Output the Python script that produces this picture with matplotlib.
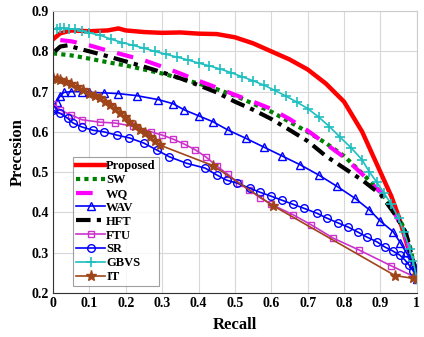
import matplotlib
matplotlib.use("Agg")
import matplotlib.pyplot as plt

plt.rcParams['font.family'] = ['Liberation Serif', 'DejaVu Serif']
plt.rcParams['font.weight'] = 'bold'

# ---- data ----
prop_r = [0, 0.02, 0.05, 0.1, 0.15, 0.18, 0.2, 0.25, 0.3, 0.35, 0.4, 0.45, 0.5, 0.55, 0.6, 0.65, 0.7, 0.75, 0.8, 0.85, 0.9, 0.93, 0.95, 0.97, 0.99, 1.0]
prop_p = [0.83, 0.845, 0.852, 0.85, 0.852, 0.857, 0.852, 0.848, 0.846, 0.847, 0.844, 0.843, 0.835, 0.82, 0.8, 0.78, 0.755, 0.72, 0.675, 0.6, 0.5, 0.44, 0.39, 0.33, 0.27, 0.24]

sw_r = [0, 0.05, 0.1, 0.15, 0.2, 0.25, 0.3, 0.35, 0.4, 0.45, 0.5, 0.55, 0.6, 0.65, 0.7, 0.75, 0.8, 0.85, 0.9, 0.93, 0.96, 0.98, 1.0]
sw_p = [0.795, 0.79, 0.782, 0.773, 0.765, 0.755, 0.745, 0.733, 0.72, 0.706, 0.69, 0.67, 0.65, 0.625, 0.6, 0.572, 0.54, 0.497, 0.45, 0.415, 0.37, 0.32, 0.24]

wq_r = [0.02, 0.05, 0.1, 0.15, 0.2, 0.25, 0.3, 0.35, 0.4, 0.45, 0.5, 0.55, 0.6, 0.65, 0.7, 0.75, 0.8, 0.85, 0.9, 0.93, 0.96, 0.98, 1.0]
wq_p = [0.828, 0.825, 0.815, 0.802, 0.79, 0.778, 0.762, 0.745, 0.727, 0.71, 0.692, 0.675, 0.657, 0.632, 0.603, 0.57, 0.537, 0.495, 0.45, 0.415, 0.36, 0.31, 0.24]

wav_r = [0, 0.01, 0.02, 0.03, 0.05, 0.08, 0.1, 0.14, 0.18, 0.23, 0.29, 0.33, 0.36, 0.4, 0.44, 0.48, 0.53, 0.58, 0.63, 0.68, 0.73, 0.78, 0.83, 0.87, 0.9, 0.935, 0.955, 0.97, 0.99, 1.0]
wav_p = [0.66, 0.675, 0.69, 0.698, 0.70, 0.70, 0.698, 0.697, 0.695, 0.69, 0.68, 0.67, 0.655, 0.64, 0.625, 0.605, 0.584, 0.562, 0.54, 0.518, 0.493, 0.465, 0.435, 0.406, 0.378, 0.352, 0.324, 0.302, 0.274, 0.235]

hft_r = [0.005, 0.02, 0.04, 0.07, 0.1, 0.15, 0.2, 0.25, 0.3, 0.35, 0.4, 0.45, 0.5, 0.55, 0.6, 0.65, 0.7, 0.75, 0.8, 0.85, 0.9, 0.94, 0.97, 1.0]
hft_p = [0.80, 0.812, 0.815, 0.807, 0.8, 0.788, 0.775, 0.762, 0.748, 0.733, 0.716, 0.698, 0.675, 0.655, 0.632, 0.605, 0.577, 0.54, 0.51, 0.48, 0.445, 0.395, 0.35, 0.24]

ftu_r = [0, 0.02, 0.05, 0.08, 0.13, 0.17, 0.22, 0.27, 0.3, 0.33, 0.36, 0.39, 0.42, 0.45, 0.48, 0.51, 0.54, 0.57, 0.6, 0.66, 0.71, 0.77, 0.84, 0.93, 1.0]
ftu_p = [0.67, 0.654, 0.642, 0.63, 0.624, 0.622, 0.614, 0.6, 0.592, 0.582, 0.57, 0.556, 0.538, 0.515, 0.495, 0.473, 0.455, 0.436, 0.42, 0.394, 0.369, 0.336, 0.307, 0.267, 0.237]

sr_r = [0, 0.02, 0.04, 0.055, 0.08, 0.11, 0.14, 0.175, 0.21, 0.25, 0.285, 0.32, 0.367, 0.418, 0.45, 0.477, 0.505, 0.541, 0.569, 0.6, 0.63, 0.66, 0.69, 0.725, 0.752, 0.783, 0.81, 0.838, 0.862, 0.89, 0.912, 0.934, 0.953, 0.967, 0.978, 0.99, 1.0]
sr_p = [0.654, 0.646, 0.634, 0.622, 0.612, 0.604, 0.6, 0.592, 0.585, 0.572, 0.555, 0.538, 0.522, 0.51, 0.493, 0.48, 0.473, 0.46, 0.45, 0.44, 0.43, 0.42, 0.41, 0.398, 0.386, 0.374, 0.364, 0.351, 0.339, 0.327, 0.314, 0.304, 0.294, 0.282, 0.27, 0.255, 0.24]

gbvs_r = [0, 0.01, 0.02, 0.03, 0.045, 0.06, 0.08, 0.1, 0.13, 0.16, 0.19, 0.22, 0.25, 0.28, 0.31, 0.34, 0.37, 0.4, 0.43, 0.46, 0.49, 0.52, 0.55, 0.58, 0.61, 0.64, 0.67, 0.7, 0.73, 0.76, 0.79, 0.82, 0.85, 0.87, 0.89, 0.91, 0.93, 0.95, 0.965, 0.98, 0.99, 1.0]
gbvs_p = [0.855, 0.856, 0.857, 0.857, 0.856, 0.855, 0.851, 0.846, 0.84, 0.83, 0.822, 0.815, 0.808, 0.8, 0.793, 0.786, 0.779, 0.771, 0.764, 0.756, 0.747, 0.737, 0.727, 0.716, 0.703, 0.689, 0.674, 0.658, 0.637, 0.613, 0.586, 0.56, 0.53, 0.5, 0.475, 0.448, 0.42, 0.385, 0.35, 0.31, 0.28, 0.235]

it_r = [0, 0.01, 0.02, 0.035, 0.05, 0.065, 0.083, 0.1, 0.115, 0.129, 0.143, 0.157, 0.17, 0.184, 0.197, 0.21, 0.225, 0.239, 0.252, 0.266, 0.28, 0.294, 0.44, 0.604, 0.94, 0.99, 1.0]
it_p = [0.735, 0.732, 0.729, 0.724, 0.718, 0.712, 0.704, 0.695, 0.69, 0.683, 0.675, 0.667, 0.657, 0.647, 0.636, 0.624, 0.614, 0.604, 0.596, 0.587, 0.577, 0.567, 0.516, 0.417, 0.243, 0.236, 0.235]

x_ticks = [0, 0.1, 0.2, 0.3, 0.4, 0.5, 0.6, 0.7, 0.8, 0.9, 1]
x_tick_labels = ['0', '0.1', '0.2', '0.3', '0.4', '0.5', '0.6', '0.7', '0.8', '0.9', '1']
y_ticks = [0.2, 0.3, 0.4, 0.5, 0.6, 0.7, 0.8, 0.9]
y_tick_labels = ['0.2', '0.3', '0.4', '0.5', '0.6', '0.7', '0.8', '0.9']

fig = plt.figure(figsize=(4.24, 3.37), dpi=100)
ax = fig.add_axes([0.125, 0.131, 0.858, 0.836])

ax.plot(prop_r, prop_p, color='#ff0000', lw=3.2, label='Proposed')
ax.plot(sw_r, sw_p, color='#008000', lw=3.0, linestyle=(0, (1, 1)), label='SW')
ax.plot(wq_r, wq_p, color='#ff00ff', lw=3.0, linestyle=(0, (4, 3)), label='WQ')
ax.plot(wav_r, wav_p, color='#0000ff', lw=1.2, marker='^', ms=6, mfc='none', mew=1.0, label='WAV')
ax.plot(hft_r, hft_p, color='#000000', lw=3.0, linestyle=(0, (3.5, 1.5, 1, 1.5)), label='HFT')
ax.plot(ftu_r, ftu_p, color='#cc33cc', lw=1.2, marker='s', ms=4, mfc='none', mew=1.0, label='FTU')
ax.plot(sr_r, sr_p, color='#0000ff', lw=1.2, marker='o', ms=5.5, mfc='none', mew=1.0, label='SR')
ax.plot(gbvs_r, gbvs_p, color='#1fbfbf', lw=1.2, marker='+', ms=7, mew=1.2, label='GBVS')
ax.plot(it_r, it_p, color='#a0451a', lw=1.2, marker='*', ms=8, label='IT')

ax.set_xlim(0, 1)
ax.set_ylim(0.2, 0.9)
ax.set_xticks(x_ticks)
ax.set_xticklabels(x_tick_labels)
ax.set_yticks(y_ticks)
ax.set_yticklabels(y_tick_labels)
ax.tick_params(labelsize=10, length=0, pad=3)
for lab in ax.get_xticklabels() + ax.get_yticklabels():
    lab.set_fontweight('bold')
ax.grid(True, color='#d8d8d8', lw=0.8)
ax.set_axisbelow(True)
for s in ['top', 'right']:
    ax.spines[s].set_color('#cccccc')
for s in ['left', 'bottom']:
    ax.spines[s].set_color('#333333')
ax.set_xlabel('Recall', fontsize=12, fontweight='bold', labelpad=5)
ax.set_ylabel('Precesion', fontsize=12, fontweight='bold', labelpad=4)

leg = ax.legend(loc='upper left', bbox_to_anchor=(0.055, 0.482),
                prop={'weight': 'bold', 'size': 9}, frameon=True, fancybox=False,
                edgecolor='#888888', handlelength=2.3, handletextpad=0.1,
                labelspacing=0.15, borderpad=0.25, borderaxespad=0)
leg.get_frame().set_linewidth(0.8)

fig.savefig('out.png', dpi=100)
